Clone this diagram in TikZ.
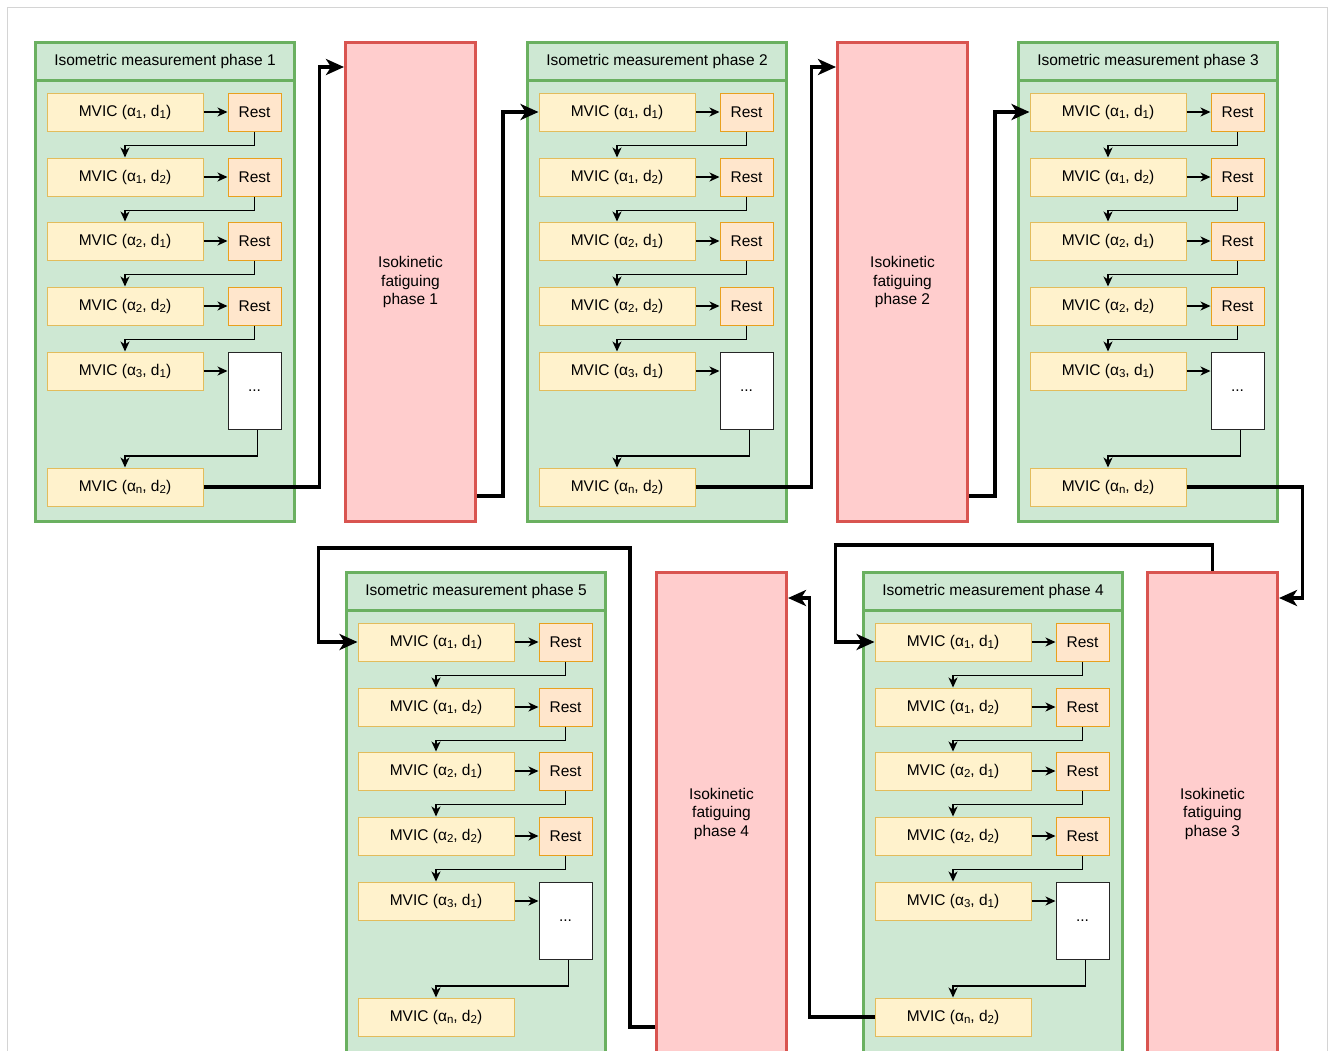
\documentclass[tikz,border=0pt]{standalone}
\usepackage{fontspec}
\setmainfont{Liberation Sans}
\usetikzlibrary{arrows.meta}
\definecolor{GroupFill}{RGB}{206,232,211}
\definecolor{GroupLine}{RGB}{106,176,96}
\definecolor{MvicFill}{RGB}{255,242,204}
\definecolor{MvicLine}{RGB}{226,188,92}
\definecolor{RestFill}{RGB}{255,230,204}
\definecolor{RestLine}{RGB}{232,160,30}
\definecolor{FatFill}{RGB}{255,205,205}
\definecolor{FatLine}{RGB}{217,84,80}
\definecolor{Frame}{RGB}{212,212,212}
\newcommand\lowidx[1]{\raisebox{-0.35ex}{\fontsize{11.5}{11.5}\selectfont#1}}
\tikzset{
  groupbox/.style={draw=GroupLine,fill=GroupFill,line width=3pt,minimum width=259pt,minimum height=479pt,inner sep=0pt,anchor=north west},
  headbox/.style={draw=GroupLine,line width=3pt,minimum width=259pt,minimum height=38pt,inner sep=0pt,anchor=north west},
  mvicbox/.style={draw=MvicLine,fill=MvicFill,line width=1pt,minimum width=156pt,minimum height=38pt,inner sep=0pt},
  restbox/.style={draw=RestLine,fill=RestFill,line width=1pt,minimum width=53pt,minimum height=38pt,inner sep=0pt},
  dotsbox/.style={draw=black!85,fill=white,line width=1pt,minimum width=53pt,minimum height=77pt,inner sep=0pt,anchor=north},
  fatbox/.style={draw=FatLine,fill=FatFill,line width=3pt,minimum width=130pt,minimum height=479pt,inner sep=0pt,align=center,anchor=north west},
  flow/.style={-{Stealth[length=10pt,width=9pt,inset=3pt]},line width=1.3pt},
  bigflow/.style={-{Stealth[length=18pt,width=16pt,inset=5pt]},line width=3.5pt}
}
\begin{document}
\begin{tikzpicture}[x=1pt,y=-1pt,font=\fontsize{15.5}{18.5}\selectfont]
\useasboundingbox (0,0) rectangle (1330,1050);
\draw[Frame,line width=1pt] (7,1060) -- (7,7) -- (1327,7) -- (1327,1060);
% measurement phases
\foreach \ph/\px/\py/\hh in {1/34/41/479,2/526/41/479,3/1017/41/479,4/862/571/483,5/345/571/483}{
  \begin{scope}[shift={(\px,\py)}]
    \node[groupbox,minimum height=\hh pt] (g\ph) at (0,0) {};
    \node[headbox] (h\ph) at (0,0) {Isometric measurement phase \ph};
    \foreach \k/\al/\dl/\yy in {1/1/1/71,2/1/2/136,3/2/1/200,4/2/2/265}{
      \node[mvicbox] (m\ph-\k) at (91,\yy) {MVIC (α\lowidx{\al}, d\lowidx{\dl})};
      \node[restbox] (r\ph-\k) at (220.5,\yy) {Rest};
    }
    \node[mvicbox] (m\ph-5) at (91,330) {MVIC (α\lowidx{3}, d\lowidx{1})};
    \node[dotsbox] (dots\ph) at (220.5,311) {...};
    \node[mvicbox] (m\ph-n) at (91,446) {MVIC (α\lowidx{n}, d\lowidx{2})};
  \end{scope}
  \foreach \k in {1,...,4}
    \draw[flow] (m\ph-\k.east) -- (r\ph-\k.west);
  \draw[flow] (m\ph-5.east) -- (m\ph-5.east -| dots\ph.west);
  \foreach \k/\nx in {1/2,2/3,3/4,4/5}
    \draw[flow] (r\ph-\k.south) -- ++(0,14) -| (m\ph-\nx.north);
  \draw[flow] ([xshift=3pt]dots\ph.south) -- ++(0,26) -| (m\ph-n.north);
}
% fatiguing phases
\node[fatbox] (f1) at (344,41) {Isokinetic\\fatiguing\\phase 1};
\node[fatbox] (f2) at (836,41) {Isokinetic\\fatiguing\\phase 2};
\node[fatbox,minimum height=482pt] (f3) at (1146,571) {Isokinetic\\fatiguing\\phase 3};
\node[fatbox,minimum height=482pt] (f4) at (655,571) {Isokinetic\\fatiguing\\phase 4};
% phase to phase
\draw[bigflow] (m1-n.east) -- ++(116,0) |- ([yshift=-26pt]f1.north west);
\draw[bigflow] ([yshift=27pt]f1.south east) -- ++(26,0) |- (m2-1.west);
\draw[bigflow] (m2-n.east) -- ++(116,0) |- ([yshift=-26pt]f2.north west);
\draw[bigflow] ([yshift=27pt]f2.south east) -- ++(26,0) |- (m3-1.west);
\draw[bigflow] (m3-n.east) -- ++(116,0) |- ([yshift=-27pt]f3.north east);
\draw[bigflow] (f3.north) -- ++(0,-26) -| ([xshift=-39pt]m4-1.west) -- (m4-1.west);
\draw[bigflow] (m4-n.west) -- ++(-65,0) |- ([yshift=-27pt]f4.north east);
\draw[bigflow] ([yshift=29pt]f4.south west) -- ++(-25,0) -- ++(0,-479) -| ([xshift=-39pt]m5-1.west) -- (m5-1.west);
\end{tikzpicture}
\end{document}
